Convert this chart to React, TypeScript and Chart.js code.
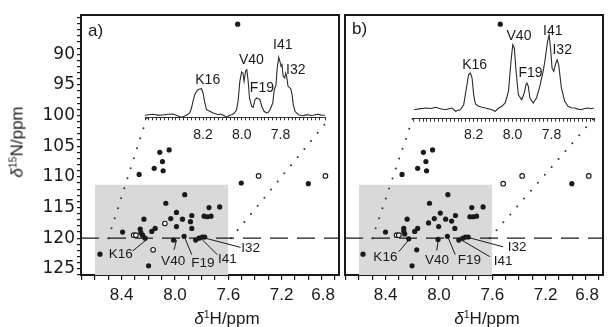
import React, { useEffect, useRef } from 'react';
import { Chart, registerables } from 'chart.js';
Chart.register(...registerables);

const FONT = '"Liberation Sans", Arial, Helvetica, sans-serif';
const FONT_Y = '"DejaVu Sans", "Liberation Sans", Arial, sans-serif';
const INK = '#1a1a1a';

// ---------- axes ----------
const H_RANGE = [6.77, 8.705];
const N_RANGE = [83.6, 126];
const H_TICK_LABELS = [8.4, 8.0, 7.6, 7.2, 6.8];
const N_TICK_LABELS = [90, 95, 100, 105, 110, 115, 120, 125];
const H_MINOR_TICKS = Array.from({ length: 20 }, (_, i) => (68 + i) / 10); // 6.8 … 8.7 every 0.1
const N_MINOR_TICKS = Array.from({ length: 43 }, (_, i) => 84 + i); // 84 … 126 every 1
const INSET_TICK_LABELS = [8.2, 8.0, 7.8];
const INSET_RANGE_A = [7.57, 8.5];
const INSET_RANGE_B = [7.58, 8.51];

// ---------- highlighted region ----------
const BOX_H = [8.6, 7.6];
const BOX_N_TOP = 111.3;
const CUT_N = 120;

const PEAKS = ['K16', 'V40', 'F19', 'I41', 'I32'];

// ---------- panel a : 2D cross peaks ----------
const A_FILLED: number[][] = [
  [8.114, 106.0], [8.044, 105.6], [8.094, 107.5], [8.156, 108.6], [8.089, 109.0], [8.269, 109.6],
  [7.927, 112.9], [8.069, 114.3], [7.745, 115.0], [7.665, 114.9], [7.989, 115.8], [7.874, 116.3],
  [7.944, 116.9], [8.032, 116.8], [7.782, 116.4], [7.757, 116.5], [7.730, 116.4], [7.884, 117.3],
  [7.989, 118.1], [7.874, 118.4], [8.233, 116.9], [8.149, 118.4], [8.174, 118.9], [8.393, 119.0],
  [8.261, 118.5], [8.256, 119.1], [8.243, 119.5], [8.224, 120.0], [8.011, 120.3], [7.932, 119.7],
  [7.845, 120.3], [7.820, 120.0], [7.795, 119.8], [7.777, 119.8], [8.563, 122.6], [8.198, 124.5],
  [7.503, 111.0], [7.000, 111.1], [7.530, 85.1],
];
const A_OPEN: number[][] = [
  [8.310, 119.5], [8.293, 119.5], [8.076, 117.6], [8.164, 121.9], [7.373, 109.85], [6.872, 109.85],
];
const A_LABEL_POS: number[][] = [[8.406, 122.6], [8.014, 123.7], [7.790, 124.1], [7.607, 123.5], [7.433, 121.7]];
const A_LEADERS: number[][][] = [
  [[8.318, 122.1], [8.211, 120.2]],
  [[8.007, 121.9], [7.989, 120.3]],
  [[7.874, 122.7], [7.925, 120.0]],
  [[7.682, 122.7], [7.807, 120.0]],
  [[7.508, 121.5], [7.807, 119.8]],
];
const A_ZOOM_LINES: number[][][] = [
  [[8.50, 120], [8.211, 100.3]],
  [[7.58, 120], [6.835, 100.3]],
];

// ---------- panel b : 2D cross peaks ----------
const B_FILLED: number[][] = [
  [8.117, 106.0], [8.048, 105.6], [8.098, 107.5], [8.160, 108.6], [8.093, 109.0], [8.277, 109.6],
  [7.933, 112.9], [8.071, 114.3], [7.754, 115.0], [7.669, 114.9], [7.990, 115.9], [7.876, 116.3],
  [7.950, 116.9], [8.035, 116.8], [7.768, 116.5], [7.744, 116.5], [7.718, 116.4], [8.078, 117.5],
  [7.905, 117.2], [8.002, 118.1], [7.881, 118.4], [8.239, 116.9], [8.160, 118.4], [8.182, 118.9],
  [8.401, 119.0], [8.264, 118.4], [8.264, 118.9], [8.257, 119.3], [8.227, 120.1], [8.007, 120.2],
  [7.937, 119.7], [7.851, 120.3], [7.821, 120.0], [7.801, 119.8], [7.781, 119.8], [8.570, 122.6],
  [8.167, 121.9], [8.202, 124.5], [7.003, 111.1], [7.540, 85.1],
];
const B_OPEN: number[][] = [
  [8.318, 119.5], [8.301, 119.5], [7.518, 111.1], [7.376, 109.85], [6.876, 109.85],
];
const B_LABEL_POS: number[][] = [[8.402, 123.1], [8.014, 123.6], [7.772, 123.6], [7.518, 123.7], [7.413, 121.5]];
const B_LEADERS: number[][][] = [
  [[8.301, 122.2], [8.219, 120.1]],
  [[8.017, 122.0], [8.004, 120.2]],
  [[7.878, 122.7], [7.933, 119.8]],
  [[7.619, 123.0], [7.831, 120.3]],
  [[7.519, 121.4], [7.794, 119.8]],
];
const B_ZOOM_LINES: number[][][] = [
  [[8.50, 120], [8.197, 100.5]],
  [[7.62, 120], [6.839, 100.5]],
];

// ---------- 1D spectra (ppm, intensity) ----------
const A_SPECTRUM: number[][] = [
  [8.502, 2.0], [8.480, 2.6], [8.459, 3.0], [8.435, 2.2], [8.407, 2.3], [8.380, 3.0], [8.355, 3.3],
  [8.330, 1.3], [8.312, 0.0], [8.298, 1.0], [8.286, 2.0], [8.269, 4.3], [8.260, 9.3], [8.252, 16.0],
  [8.243, 22.6], [8.234, 26.0], [8.226, 27.6], [8.217, 28.3], [8.208, 28.6], [8.200, 24.3],
  [8.191, 14.3], [8.182, 7.6], [8.165, 6.0], [8.148, 4.3], [8.135, 3.5], [8.122, 2.6], [8.110, 3.2],
  [8.096, 2.0], [8.085, 1.0], [8.076, 0.0], [8.065, 1.8], [8.053, 2.6], [8.040, 3.8], [8.027, 7.6],
  [8.019, 16.0], [8.010, 36.0], [8.001, 45.3], [7.994, 44.3], [7.988, 36.0], [7.980, 46.6],
  [7.974, 47.6], [7.967, 36.0], [7.960, 19.3], [7.949, 11.0], [7.941, 10.0], [7.932, 17.6],
  [7.923, 19.3], [7.915, 18.6], [7.906, 17.6], [7.897, 11.0], [7.885, 6.0], [7.872, 4.3],
  [7.863, 5.0], [7.854, 7.6], [7.840, 14.3], [7.832, 27.6], [7.823, 32.6], [7.817, 49.3],
  [7.809, 60.0], [7.803, 56.0], [7.797, 51.0], [7.792, 52.6], [7.786, 41.0], [7.778, 39.3],
  [7.773, 44.3], [7.768, 41.0], [7.761, 31.0], [7.754, 30.0], [7.747, 28.6], [7.740, 22.6],
  [7.734, 12.6], [7.725, 6.0], [7.708, 2.6], [7.695, 2.0], [7.682, 1.6], [7.670, 2.4], [7.656, 2.6],
  [7.643, 1.8], [7.630, 2.0], [7.617, 2.8], [7.604, 3.0], [7.590, 2.2], [7.570, 2.0],
];
const B_SPECTRUM: number[][] = [
  [8.506, 9.0], [8.480, 9.8], [8.446, 10.7], [8.420, 10.2], [8.395, 11.4], [8.370, 10.0],
  [8.344, 9.0], [8.327, 10.0], [8.310, 10.7], [8.293, 7.4], [8.280, 8.4], [8.268, 9.0],
  [8.251, 14.0], [8.237, 30.7], [8.226, 44.0], [8.217, 45.7], [8.208, 40.7], [8.200, 24.0],
  [8.191, 14.7], [8.174, 12.4], [8.157, 11.5], [8.140, 10.7], [8.123, 10.0], [8.106, 9.0],
  [8.089, 7.4], [8.072, 10.7], [8.055, 12.4], [8.038, 15.7], [8.021, 27.4], [8.008, 57.4],
  [7.999, 74.0], [7.991, 70.7], [7.982, 47.4], [7.970, 24.0], [7.953, 19.0], [7.940, 25.7],
  [7.931, 34.0], [7.926, 35.7], [7.919, 32.4], [7.911, 20.7], [7.894, 15.7], [7.877, 20.7],
  [7.860, 32.4], [7.843, 47.4], [7.834, 57.4], [7.820, 77.4], [7.812, 84.0], [7.805, 70.7],
  [7.797, 50.7], [7.788, 47.4], [7.780, 54.0], [7.771, 59.0], [7.763, 54.0], [7.749, 30.7],
  [7.732, 17.4], [7.715, 12.4], [7.698, 11.0], [7.681, 10.7], [7.664, 9.6], [7.647, 9.0],
  [7.630, 10.2], [7.613, 10.7], [7.596, 10.0], [7.583, 10.7],
];
const A_INSET_LABEL_POS: number[][] = [[8.176, 37.6], [7.950, 57.6], [7.896, 29.3], [7.788, 72.6], [7.721, 47.6]];
const B_INSET_LABEL_POS: number[][] = [[8.195, 54.0], [7.967, 82.4], [7.908, 45.7], [7.793, 87.4], [7.745, 69.0]];

// ---------- helpers ----------
const toPts = (arr: number[][]) => arr.map(([x, y]) => ({ x, y }));
const near = (list: number[], v: number) => list.some((t) => Math.abs(t - v) < 1e-6);

function textPlugin(names: string[], pos: number[][], size: number) {
  return {
    id: 'peakText',
    afterDatasetsDraw(chart: any) {
      const ctx = chart.ctx;
      const xs = chart.scales.x;
      const ys = chart.scales.y;
      ctx.save();
      ctx.fillStyle = INK;
      ctx.font = `${size}px ${FONT}`;
      ctx.textAlign = 'center';
      ctx.textBaseline = 'middle';
      names.forEach((n, i) => {
        ctx.fillText(n, xs.getPixelForValue(pos[i][0]), ys.getPixelForValue(pos[i][1]));
      });
      ctx.restore();
    },
  };
}

type MainProps = {
  left: number; width: number; yWidth: number; padRight: number; showY: boolean;
  filled: number[][]; open: number[][]; labelPos: number[][]; leaders: number[][][]; zoomLines: number[][][];
};

function MainPanel(p: MainProps) {
  const ref = useRef<HTMLCanvasElement>(null);
  useEffect(() => {
    const lineBase = { type: 'line', showLine: true, pointRadius: 0, fill: false, xAxisID: 'x', yAxisID: 'y' };
    const chart = new Chart(ref.current as HTMLCanvasElement, {
      type: 'scatter',
      data: {
        datasets: [
          {
            ...lineBase,
            data: toPts([[BOX_H[0], BOX_N_TOP], [BOX_H[1], BOX_N_TOP]]),
            fill: { value: N_RANGE[1] },
            backgroundColor: '#d9d9d9',
            borderWidth: 0,
            order: 10,
          },
          {
            ...lineBase,
            data: toPts([[H_RANGE[1], CUT_N], [H_RANGE[0], CUT_N]]),
            borderColor: INK,
            borderWidth: 1.3,
            borderDash: [18, 9],
            order: 6,
          },
          ...p.zoomLines.map((z) => ({
            ...lineBase,
            data: toPts(z),
            borderColor: '#333',
            borderWidth: 2,
            borderDash: [0, 10.5],
            borderCapStyle: 'round',
            order: 6,
          })),
          ...p.leaders.map((l) => ({
            ...lineBase,
            data: toPts(l),
            borderColor: INK,
            borderWidth: 1,
            order: 2,
          })),
          {
            type: 'scatter', xAxisID: 'x', yAxisID: 'y',
            data: toPts(p.filled),
            pointRadius: 2.6,
            pointBackgroundColor: INK,
            pointBorderWidth: 0,
            order: 1,
          },
          {
            type: 'scatter', xAxisID: 'x', yAxisID: 'y',
            data: toPts(p.open),
            pointRadius: 2.3,
            pointBackgroundColor: '#ffffff',
            pointBorderColor: INK,
            pointBorderWidth: 1.1,
            order: 0,
          },
        ] as any,
      },
      options: {
        responsive: false,
        animation: false,
        devicePixelRatio: 1,
        events: [],
        layout: { padding: { left: 0, right: p.padRight, top: 15, bottom: 0 } },
        plugins: { legend: { display: false }, tooltip: { enabled: false } },
        scales: {
          x: {
            type: 'linear', position: 'bottom', reverse: true, min: H_RANGE[0], max: H_RANGE[1],
            afterBuildTicks: (s: any) => { s.ticks = H_MINOR_TICKS.map((value) => ({ value })); },
            afterFit: (s: any) => { s.height = 52; s.paddingLeft = 0; s.paddingRight = 0; },
            ticks: {
              autoSkip: false, maxRotation: 0, minRotation: 0, align: 'inner', padding: 5,
              color: INK, font: { family: FONT, size: 17 },
              callback: (v: any) => (near(H_TICK_LABELS, Number(v)) ? Number(v).toFixed(1) : ''),
            },
            grid: { display: true, drawOnChartArea: false, drawTicks: true, tickLength: 5, color: INK, lineWidth: 1.2 },
            border: { display: true, color: INK, width: 2 },
          },
          y: {
            type: 'linear', position: 'left', reverse: true, min: N_RANGE[0], max: N_RANGE[1],
            afterBuildTicks: (s: any) => { s.ticks = N_MINOR_TICKS.map((value) => ({ value })); },
            afterFit: (s: any) => { s.width = p.yWidth; s.paddingTop = 0; s.paddingBottom = 0; },
            ticks: {
              display: p.showY, autoSkip: false, padding: 2,
              color: INK, font: { family: FONT_Y, size: 17 },
              callback: (v: any) => (near(N_TICK_LABELS, Number(v)) ? String(Math.round(Number(v))) : ''),
            },
            grid: { display: p.showY, drawOnChartArea: false, drawTicks: true, tickLength: 4, color: INK, lineWidth: 1.2 },
            border: { display: true, color: INK, width: 2 },
          },
          xTop: {
            type: 'linear', position: 'top', display: true,
            ticks: { display: false }, grid: { display: false, drawTicks: false },
            border: { display: true, color: INK, width: 2 },
            afterFit: (s: any) => { s.height = 0; s.paddingLeft = 0; s.paddingRight = 0; },
          },
          yRight: {
            type: 'linear', position: 'right', display: true,
            ticks: { display: false }, grid: { display: false, drawTicks: false },
            border: { display: true, color: INK, width: 2 },
            afterFit: (s: any) => { s.width = 0; s.paddingTop = 0; s.paddingBottom = 0; },
          },
        },
      } as any,
      plugins: [textPlugin(PEAKS, p.labelPos, 13.5)],
    });
    return () => chart.destroy();
  }, []);
  return (
    <canvas
      ref={ref}
      width={p.width}
      height={327}
      style={{ position: 'absolute', left: p.left, top: 0, width: p.width, height: 327 }}
    />
  );
}

type InsetProps = {
  left: number; width: number; padL: number; padR: number; axisY: number;
  range: number[]; spectrum: number[][]; labelPos: number[][]; labelPad: number;
};

function Inset(p: InsetProps) {
  const ref = useRef<HTMLCanvasElement>(null);
  const top = 15;
  const height = 135;
  useEffect(() => {
    const chart = new Chart(ref.current as HTMLCanvasElement, {
      type: 'line',
      data: {
        datasets: [
          {
            data: toPts(p.spectrum),
            borderColor: '#2a2a2a',
            borderWidth: 1.1,
            pointRadius: 0,
            fill: false,
            tension: 0,
          },
        ],
      },
      options: {
        responsive: false,
        animation: false,
        devicePixelRatio: 1,
        events: [],
        layout: { padding: { left: p.padL, right: p.padR, top: 5, bottom: 0 } },
        plugins: { legend: { display: false }, tooltip: { enabled: false } },
        scales: {
          x: {
            type: 'linear', reverse: true, min: p.range[0], max: p.range[1],
            afterFit: (s: any) => { s.height = top + height - p.axisY; s.paddingLeft = 0; s.paddingRight = 0; },
            ticks: {
              stepSize: 0.02, autoSkip: false, maxRotation: 0, minRotation: 0, padding: p.labelPad,
              color: INK, font: { family: FONT, size: 14 },
              callback: (v: any) => (near(INSET_TICK_LABELS, Number(v)) ? Number(v).toFixed(1) : ''),
            },
            grid: { display: true, drawOnChartArea: false, drawTicks: true, tickLength: 3, color: '#333', lineWidth: 1 },
            border: { display: true, color: '#333', width: 1 },
          },
          y: { type: 'linear', display: false, min: 0, max: p.axisY - 20 },
        },
      } as any,
      plugins: [textPlugin(PEAKS, p.labelPos, 14)],
    });
    return () => chart.destroy();
  }, []);
  return (
    <canvas
      ref={ref}
      width={p.width}
      height={height}
      style={{ position: 'absolute', left: p.left, top, width: p.width, height }}
    />
  );
}

const sup: React.CSSProperties = { fontSize: '0.62em', verticalAlign: '0.55em', lineHeight: 0 };

export default function App() {
  return (
    <div
      style={{
        position: 'absolute', left: 0, top: 0, width: 608, height: 327,
        background: '#ffffff', fontFamily: FONT, color: INK, overflow: 'hidden',
      }}
    >
      <MainPanel
        left={0} width={345} yWidth={81} padRight={6} showY={true}
        filled={A_FILLED} open={A_OPEN} labelPos={A_LABEL_POS} leaders={A_LEADERS} zoomLines={A_ZOOM_LINES}
      />
      <MainPanel
        left={335} width={273} yWidth={10} padRight={3} showY={false}
        filled={B_FILLED} open={B_OPEN} labelPos={B_LABEL_POS} leaders={B_LEADERS} zoomLines={B_ZOOM_LINES}
      />
      <Inset left={135} width={200} padL={10} padR={10} axisY={117.3} range={INSET_RANGE_A}
        spectrum={A_SPECTRUM} labelPos={A_INSET_LABEL_POS} labelPad={6} />
      <Inset left={403} width={202} padL={10.3} padR={10.7} axisY={118.7} range={INSET_RANGE_B}
        spectrum={B_SPECTRUM} labelPos={B_INSET_LABEL_POS} labelPad={5} />

      <div style={{ position: 'absolute', left: 88, top: 30, transform: 'translateY(-50%)', fontSize: 17, lineHeight: 1 }}>a)</div>
      <div style={{ position: 'absolute', left: 352, top: 28, transform: 'translateY(-50%)', fontSize: 17, lineHeight: 1 }}>b)</div>

      <div style={{ position: 'absolute', left: 227, top: 318, transform: 'translate(-50%,-50%)', fontSize: 17, lineHeight: 1, whiteSpace: 'nowrap' }}>
        <i>δ</i><span style={sup}>1</span>H/ppm
      </div>
      <div style={{ position: 'absolute', left: 487, top: 318, transform: 'translate(-50%,-50%)', fontSize: 17, lineHeight: 1, whiteSpace: 'nowrap' }}>
        <i>δ</i><span style={sup}>1</span>H/ppm
      </div>
      <div style={{ position: 'absolute', left: 17, top: 142, transform: 'translate(-50%,-50%) rotate(-90deg)', fontSize: 17, lineHeight: 1, whiteSpace: 'nowrap' }}>
        <i>δ</i><span style={sup}>15</span>N/ppm
      </div>
    </div>
  );
}
